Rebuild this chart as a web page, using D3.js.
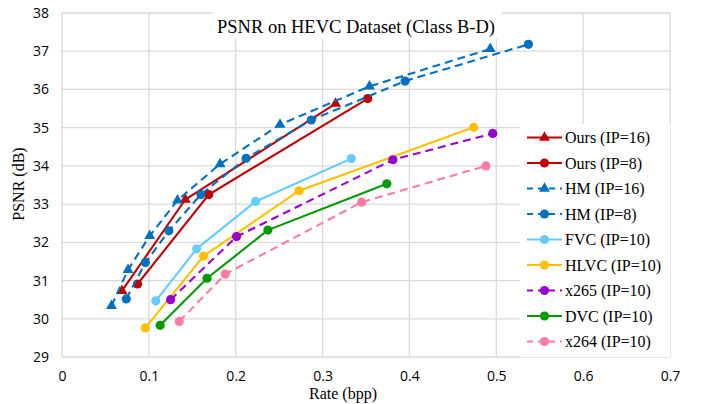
<!DOCTYPE html>
<html>
<head>
<meta charset="utf-8">
<script src="https://cdn.jsdelivr.net/npm/d3@7/dist/d3.min.js"></script>
<style>
  body { margin: 0; background: #fff; }
  svg { display: block; }
</style>
</head>
<body>
<svg id="chart" width="711" height="404"></svg>
<script>
// values (rate in bpp, PSNR in dB)
const oursIP16Rate = [0.069, 0.142, 0.315];
const oursIP16Psnr = [30.73, 33.12, 35.63];
const oursIP8Rate = [0.087, 0.169, 0.352];
const oursIP8Psnr = [30.91, 33.25, 35.76];
const hmIP16Rate = [0.057, 0.076, 0.101, 0.133, 0.182, 0.251, 0.354, 0.493];
const hmIP16Psnr = [30.34, 31.28, 32.17, 33.10, 34.05, 35.08, 36.08, 37.06];
const hmIP8Rate = [0.074, 0.096, 0.123, 0.160, 0.212, 0.287, 0.395, 0.537];
const hmIP8Psnr = [30.52, 31.47, 32.30, 33.25, 34.20, 35.20, 36.22, 37.18];
const fvcRate = [0.108, 0.155, 0.223, 0.333];
const fvcPsnr = [30.47, 31.83, 33.07, 34.19];
const hlvcRate = [0.096, 0.163, 0.273, 0.474];
const hlvcPsnr = [29.76, 31.64, 33.35, 35.01];
const x265Rate = [0.125, 0.201, 0.381, 0.496];
const x265Psnr = [30.50, 32.15, 34.16, 34.85];
const dvcRate = [0.113, 0.167, 0.237, 0.374];
const dvcPsnr = [29.83, 31.06, 32.32, 33.53];
const x264Rate = [0.135, 0.188, 0.345, 0.488];
const x264Psnr = [29.93, 31.17, 33.05, 34.00];

const seriesNames = ["Ours (IP=16)", "Ours (IP=8)", "HM (IP=16)", "HM (IP=8)", "FVC (IP=10)",
  "HLVC (IP=10)", "x265 (IP=10)", "DVC (IP=10)", "x264 (IP=10)"];
const xTicks = [0, 0.1, 0.2, 0.3, 0.4, 0.5, 0.6, 0.7];
const yTicks = [29, 30, 31, 32, 33, 34, 35, 36, 37, 38];

const series = [
  {name: seriesNames[0], rate: oursIP16Rate, psnr: oursIP16Psnr, color: "#C00000", dash: null, marker: "tri"},
  {name: seriesNames[1], rate: oursIP8Rate, psnr: oursIP8Psnr, color: "#C00000", dash: null, marker: "dot"},
  {name: seriesNames[2], rate: hmIP16Rate, psnr: hmIP16Psnr, color: "#0070C0", dash: "8,5", marker: "tri"},
  {name: seriesNames[3], rate: hmIP8Rate, psnr: hmIP8Psnr, color: "#0070C0", dash: "8,5", marker: "dot"},
  {name: seriesNames[4], rate: fvcRate, psnr: fvcPsnr, color: "#66CCFF", dash: null, marker: "dot"},
  {name: seriesNames[5], rate: hlvcRate, psnr: hlvcPsnr, color: "#FFC000", dash: null, marker: "dot"},
  {name: seriesNames[6], rate: x265Rate, psnr: x265Psnr, color: "#9900CC", dash: "8,5", marker: "dot"},
  {name: seriesNames[7], rate: dvcRate, psnr: dvcPsnr, color: "#009900", dash: null, marker: "dot"},
  {name: seriesNames[8], rate: x264Rate, psnr: x264Psnr, color: "#FF7CA0", dash: "8,5", marker: "dot"}
];

const svg = d3.select("#chart");
const margin = {top: 13, right: 41, bottom: 47, left: 62};
const width = 711 - margin.left - margin.right;
const height = 404 - margin.top - margin.bottom;

const x = d3.scaleLinear().domain([0, 0.7]).range([0, width]);
const y = d3.scaleLinear().domain([29, 38]).range([height, 0]);

const g = svg.append("g").attr("transform", `translate(${margin.left},${margin.top})`);

// gridlines
g.append("g")
  .selectAll("line")
  .data(yTicks)
  .join("line")
    .attr("x1", 0).attr("x2", width)
    .attr("y1", d => y(d)).attr("y2", d => y(d))
    .attr("stroke", "#D9D9D9").attr("stroke-width", 1.3);
g.append("g")
  .selectAll("line")
  .data(xTicks)
  .join("line")
    .attr("x1", d => x(d)).attr("x2", d => x(d))
    .attr("y1", 0).attr("y2", height)
    .attr("stroke", "#D9D9D9").attr("stroke-width", 1.3);

// axes (labels only, Excel-like)
const xAxis = g.append("g")
    .attr("transform", `translate(0,${height})`)
    .call(d3.axisBottom(x).tickValues(xTicks).tickSize(0).tickPadding(14).tickFormat(d3.format("")));
const yAxis = g.append("g")
    .call(d3.axisLeft(y).tickValues(yTicks).tickSize(0).tickPadding(13));
[xAxis, yAxis].forEach(a => {
  a.select(".domain").remove();
  a.selectAll("text")
    .attr("fill", "#000")
    .style("font", "14px 'Open Sans', 'Liberation Sans', sans-serif");
});

// title box and legend background (both cover the grid)
svg.append("rect")
    .attr("x", 212).attr("y", 12).attr("width", 290).attr("height", 27)
    .attr("fill", "#fff");
const legend = svg.append("g").attr("transform", "translate(520,124)");
legend.append("rect")
    .attr("width", 150).attr("height", 233)
    .attr("fill", "#fff");

const line = d3.line().x(d => x(d[0])).y(d => y(d[1]));
const triangle = d3.symbol().type(d3.symbolTriangle).size(52);

function drawMarker(sel, marker, color) {
  if (marker === "tri") {
    sel.append("path").attr("d", triangle).attr("fill", color);
  } else {
    sel.append("circle").attr("r", 4.6).attr("fill", color);
  }
}

series.forEach(s => {
  const pts = s.rate.map((r, i) => [r, s.psnr[i]]);
  g.append("path")
      .datum(pts)
      .attr("fill", "none")
      .attr("stroke", s.color)
      .attr("stroke-width", 2.1)
      .attr("stroke-dasharray", s.dash)
      .attr("d", line);
  g.append("g")
    .selectAll("g")
    .data(pts)
    .join("g")
      .attr("transform", d => `translate(${x(d[0])},${y(d[1])})`)
      .each(function() { drawMarker(d3.select(this), s.marker, s.color); });
});

// legend entries
series.forEach((s, i) => {
  const row = legend.append("g").attr("transform", `translate(0,${13.5 + i * 25.5})`);
  row.append("line")
      .attr("x1", 7).attr("x2", 42)
      .attr("stroke", s.color).attr("stroke-width", 2.1)
      .attr("stroke-dasharray", s.dash ? "6,5" : null);
  const m = row.append("g").attr("transform", "translate(24.5,0)");
  drawMarker(m, s.marker, s.color);
  row.append("text")
      .attr("x", 45).attr("dy", "0.35em")
      .style("font", "16px 'Liberation Serif', 'Times New Roman', serif")
      .text(s.name);
});

// title and axis titles
svg.append("text")
    .attr("x", 356).attr("y", 33)
    .attr("text-anchor", "middle")
    .style("font", "18.5px 'Liberation Serif', 'Times New Roman', serif")
    .text("PSNR on HEVC Dataset (Class B-D)");
svg.append("text")
    .attr("x", 343).attr("y", 399)
    .attr("text-anchor", "middle")
    .style("font", "16px 'Liberation Serif', 'Times New Roman', serif")
    .text("Rate (bpp)");
svg.append("text")
    .attr("transform", "translate(24,184) rotate(-90)")
    .attr("text-anchor", "middle")
    .style("font", "16px 'Liberation Serif', 'Times New Roman', serif")
    .text("PSNR (dB)");
</script>
</body>
</html>
